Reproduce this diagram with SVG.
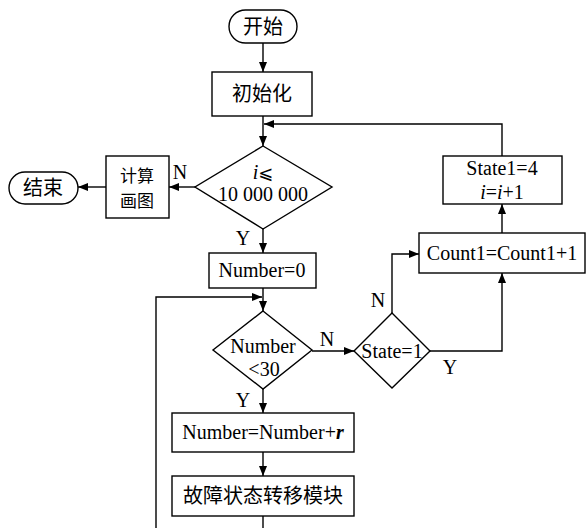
<svg xmlns="http://www.w3.org/2000/svg" width="586" height="528" viewBox="0 0 586 528">
<style>
.s{fill:#fff;stroke:#000;stroke-width:1.4}
.c{fill:none;stroke:#000;stroke-width:1.4}
text{font-family:"Liberation Serif","Noto Serif CJK SC","Noto Sans CJK SC",serif;font-size:20px;fill:#000}
.m{text-anchor:middle}
.z{font-family:"Noto Sans CJK SC","Liberation Serif",sans-serif;font-size:20px}
.zs{font-size:17px}
</style>
<defs>
<marker id="a" viewBox="0 0 10 8" refX="10" refY="4" markerWidth="10" markerHeight="8" markerUnits="userSpaceOnUse" orient="auto">
<path d="M0,0L10,4L0,8Z" fill="#000"/>
</marker>
</defs>
<rect width="586" height="528" fill="#fff"/>
<g id="connectors">
<path class="c" d="M263,43V72" marker-end="url(#a)"/>
<path class="c" d="M263,116V146" marker-end="url(#a)"/>
<path class="c" d="M502,156V124H264" marker-end="url(#a)"/>
<path class="c" d="M195,187H169" marker-end="url(#a)"/>
<path class="c" d="M106,187H78" marker-end="url(#a)"/>
<path class="c" d="M263,229V253" marker-end="url(#a)"/>
<path class="c" d="M263,288V311" marker-end="url(#a)"/>
<path class="c" d="M156,528V297H262" marker-end="url(#a)"/>
<path class="c" d="M263,389V413" marker-end="url(#a)"/>
<path class="c" d="M263,452V476" marker-end="url(#a)"/>
<path class="c" d="M263,516V528"/>
<path class="c" d="M312,351H354" marker-end="url(#a)"/>
<path class="c" d="M392,313V254H419" marker-end="url(#a)"/>
<path class="c" d="M430,351H502V273" marker-end="url(#a)"/>
<path class="c" d="M502,233V204" marker-end="url(#a)"/>
<text x="180" y="179" class="m">N</text>
<text x="243" y="245" class="m">Y</text>
<text x="327" y="346" class="m">N</text>
<text x="378" y="307" class="m">N</text>
<text x="450" y="374" class="m">Y</text>
<text x="243" y="407" class="m">Y</text>
</g>
<g id="start">
<rect class="s" x="229" y="10" width="68" height="33" rx="16.5"/>
<text x="263" y="34" class="m z">开始</text>
</g>
<g id="init">
<rect class="s" x="212" y="72" width="100" height="44"/>
<text x="262" y="101" class="m z">初始化</text>
</g>
<g id="cond-i">
<path class="s" d="M263,146L332,187L263,229L195,187Z"/>
<text x="263" y="179" class="m"><tspan font-style="italic">i</tspan><tspan font-family="DejaVu Sans,sans-serif" font-size="18">⩽</tspan></text>
<text x="263" y="201" class="m">10 000 000</text>
</g>
<g id="calc">
<rect class="s" x="106" y="156" width="63" height="62"/>
<text x="137" y="182" class="m z zs">计算</text>
<text x="137" y="207" class="m z zs">画图</text>
</g>
<g id="end">
<rect class="s" x="9" y="172" width="69" height="32" rx="16"/>
<text x="43" y="195" class="m z">结束</text>
</g>
<g id="number0">
<rect class="s" x="209" y="253" width="107" height="35"/>
<text x="262" y="277" class="m">Number=0</text>
</g>
<g id="cond-number">
<path class="s" d="M263,311L312,350L263,389L213,350Z"/>
<text x="263" y="353" class="m">Number</text>
<text x="264" y="376" class="m">&lt;30</text>
</g>
<g id="number-add">
<rect class="s" x="172" y="413" width="182" height="39"/>
<text x="263" y="439" class="m">Number=Number+<tspan font-style="italic" font-weight="bold">r</tspan></text>
</g>
<g id="fault">
<rect class="s" x="172" y="476" width="182" height="40"/>
<text x="263" y="503" class="m z">故障状态转移模块</text>
</g>
<g id="cond-state">
<path class="s" d="M392,313L430,351L392,388L354,351Z"/>
<text x="392" y="358" class="m">State=1</text>
</g>
<g id="count">
<rect class="s" x="419" y="233" width="166" height="40"/>
<text x="502" y="260" class="m">Count1=Count1+1</text>
</g>
<g id="state1">
<rect class="s" x="443" y="156" width="119" height="48"/>
<text x="502" y="175" class="m">State1=4</text>
<text x="502" y="199" class="m"><tspan font-style="italic">i</tspan>=<tspan font-style="italic">i</tspan>+1</text>
</g>
</svg>
